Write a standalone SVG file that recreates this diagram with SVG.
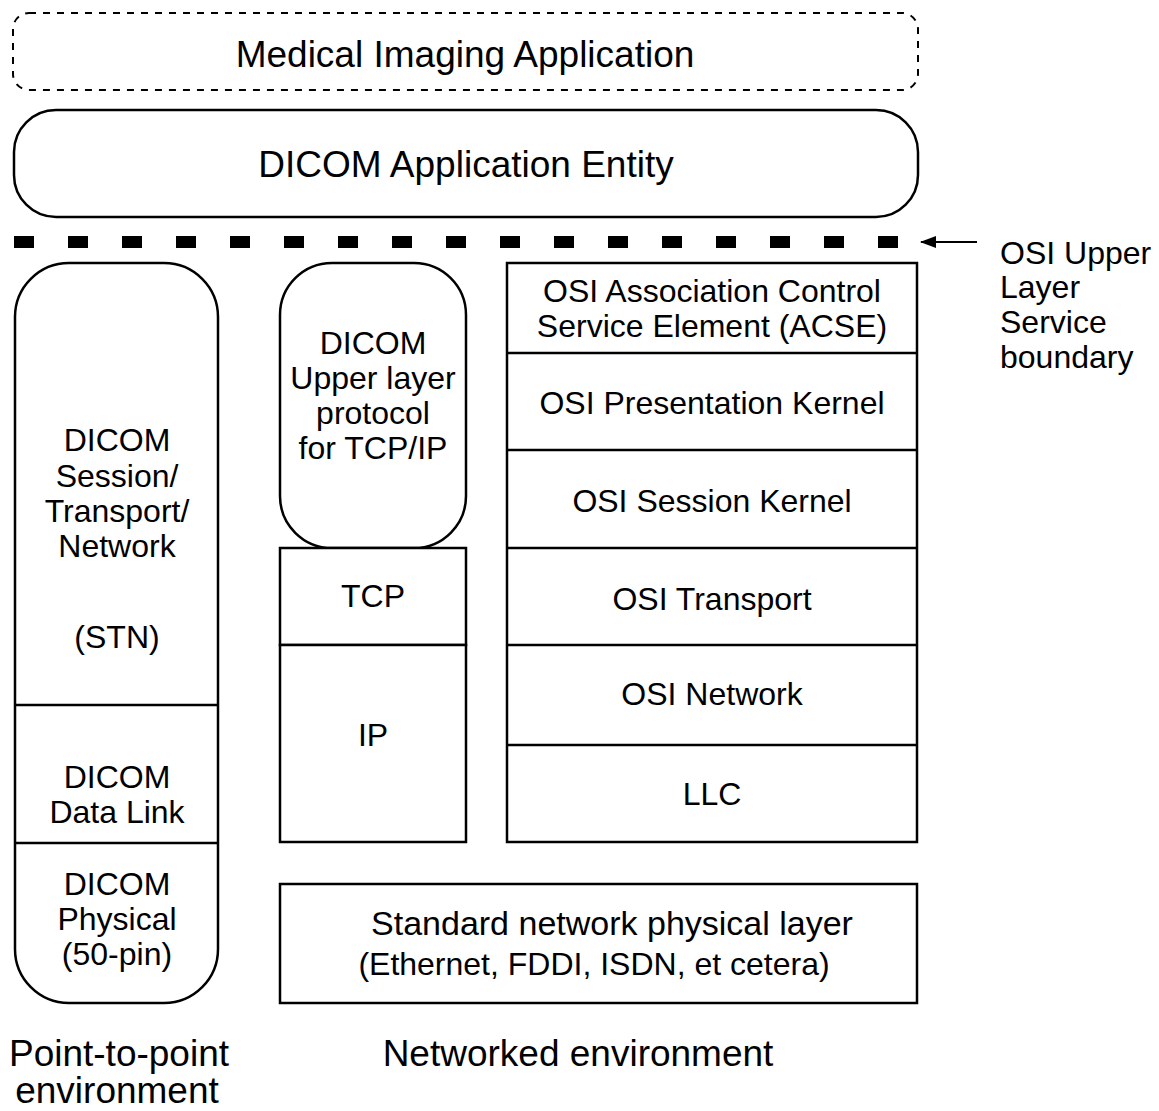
<svg xmlns="http://www.w3.org/2000/svg" width="1159" height="1111" viewBox="0 0 1159 1111">
<style>
.b{fill:#fff;stroke:#000;stroke-width:2.5}
.d{fill:none;stroke:#000;stroke-width:2.5}
.t{font-family:"Liberation Sans",Arial,sans-serif;font-size:32px;fill:#000;text-anchor:middle}
.big{font-size:37px}
.m{font-size:34px}
.l{text-anchor:start}
</style>
<defs>
<marker id="ah" markerWidth="16" markerHeight="12" refX="15" refY="6" orient="auto" markerUnits="userSpaceOnUse">
<path d="M0,0 L16,6 L0,12 Z" fill="#000"/>
</marker>
</defs>
<g id="medical-imaging-application">
<rect x="13" y="13" width="905" height="77" rx="16" fill="#fff" stroke="#000" stroke-width="2" stroke-dasharray="7,7"/>
<text class="t big" x="465" y="67">Medical Imaging Application</text>
</g>
<g id="dicom-application-entity">
<rect class="b" x="14" y="110" width="904" height="107" rx="42"/>
<text class="t big" x="466" y="177">DICOM Application Entity</text>
</g>
<g id="point-to-point-stack">
<path class="b" d="M15,317 A54,54 0 0 1 69,263 L164,263 A54,54 0 0 1 218,317 L218,949 A54,54 0 0 1 164,1003 L69,1003 A54,54 0 0 1 15,949 Z"/>
<line class="d" x1="15" y1="705" x2="218" y2="705"/>
<line class="d" x1="15" y1="843" x2="218" y2="843"/>
<text class="t" x="117" y="451">DICOM</text>
<text class="t" x="117" y="487">Session/</text>
<text class="t" x="117" y="522">Transport/</text>
<text class="t" x="117" y="557">Network</text>
<text class="t" x="117" y="648">(STN)</text>
<text class="t" x="117" y="788">DICOM</text>
<text class="t" x="117" y="823">Data Link</text>
<text class="t" x="117" y="895">DICOM</text>
<text class="t" x="117" y="930">Physical</text>
<text class="t" x="117" y="965">(50-pin)</text>
</g>
<g id="dicom-upper-layer">
<rect class="b" x="280" y="263" width="186" height="285" rx="52"/>
<text class="t" x="373" y="354">DICOM</text>
<text class="t" x="373" y="389">Upper layer</text>
<text class="t" x="373" y="424">protocol</text>
<text class="t" x="373" y="459">for TCP/IP</text>
</g>
<g id="tcp">
<rect class="b" x="280" y="548" width="186" height="97"/>
<text class="t" x="373" y="607">TCP</text>
</g>
<g id="ip">
<rect class="b" x="280" y="645" width="186" height="197"/>
<text class="t" x="373" y="746">IP</text>
</g>
<g id="osi-stack">
<rect class="b" x="507" y="263" width="410" height="579"/>
<line class="d" x1="507" y1="353" x2="917" y2="353"/>
<line class="d" x1="507" y1="450" x2="917" y2="450"/>
<line class="d" x1="507" y1="548" x2="917" y2="548"/>
<line class="d" x1="507" y1="645" x2="917" y2="645"/>
<line class="d" x1="507" y1="745" x2="917" y2="745"/>
<text class="t" x="712" y="302">OSI Association Control</text>
<text class="t" x="712" y="337">Service Element (ACSE)</text>
<text class="t" x="712" y="414">OSI Presentation Kernel</text>
<text class="t" x="712" y="512">OSI Session Kernel</text>
<text class="t" x="712" y="610">OSI Transport</text>
<text class="t" x="712" y="705">OSI Network</text>
<text class="t" x="712" y="805">LLC</text>
</g>
<g id="standard-physical">
<rect class="b" x="280" y="884" width="637" height="119"/>
<text class="t m" x="612" y="935">Standard network physical layer</text>
<text class="t" x="594" y="975">(Ethernet, FDDI, ISDN, et cetera)</text>
</g>
<g id="boundary">
<line x1="14" y1="242" x2="900" y2="242" stroke="#000" stroke-width="12" stroke-dasharray="20,34"/>
<text class="t l" x="1000" y="264">OSI Upper</text>
<text class="t l" x="1000" y="298">Layer</text>
<text class="t l" x="1000" y="333">Service</text>
<text class="t l" x="1000" y="368">boundary</text>
</g>
<g id="connectors">
<line x1="977" y1="242" x2="921" y2="242" stroke="#000" stroke-width="2" marker-end="url(#ah)"/>
</g>
<g id="labels">
<text class="t big" x="119" y="1066">Point-to-point</text>
<text class="t big" x="117" y="1103">environment</text>
<text class="t big" x="578" y="1066">Networked environment</text>
</g>
</svg>
